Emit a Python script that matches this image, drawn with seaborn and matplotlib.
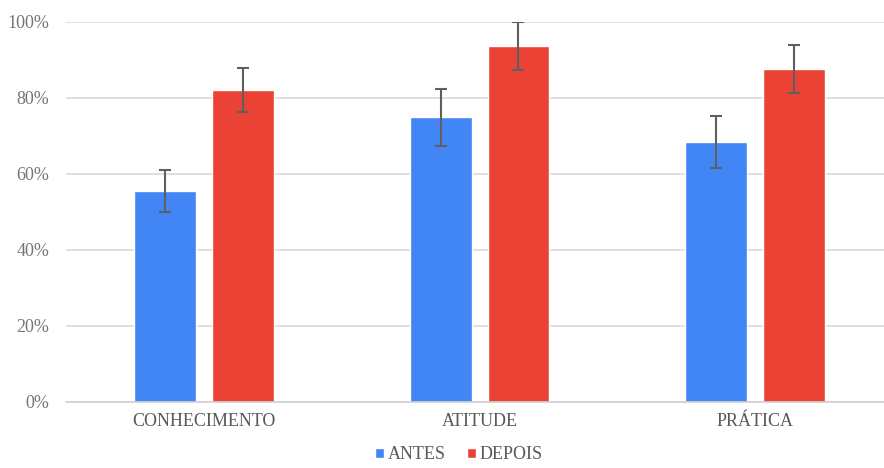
import numpy as np
import pandas as pd
import matplotlib
matplotlib.use("Agg")
from matplotlib import pyplot as plt
from matplotlib.patches import Patch
from matplotlib.ticker import PercentFormatter
import seaborn as sns

categorias = ["CONHECIMENTO", "ATITUDE", "PRÁTICA"]
grupos = ["ANTES", "DEPOIS"]
antes = [0.555, 0.750, 0.685]
depois = [0.821, 0.937, 0.877]
erro_antes = [0.055, 0.075, 0.068]
erro_depois = [0.058, 0.064, 0.063]
cores = ["#4285F4", "#EA4335"]

df = pd.DataFrame({
    "categoria": categorias * 2,
    "grupo": [grupos[0]] * 3 + [grupos[1]] * 3,
    "valor": antes + depois,
})

sns.set_style("white")
plt.rcParams["font.family"] = ["Liberation Serif", "DejaVu Serif"]

fig = plt.figure(figsize=(8.84, 4.68), dpi=100)
ax = fig.add_axes([66 / 884, 66 / 468, 818 / 884, 380 / 468])

sns.barplot(data=df, x="categoria", y="valor", hue="grupo", order=categorias,
            hue_order=grupos, palette=cores, width=0.565, gap=0.205,
            errorbar=None, legend=False, saturation=1, ax=ax)

# barras de erro no centro de cada barra
for cont, errs in zip(ax.containers, [erro_antes, erro_depois]):
    xs = [b.get_x() + b.get_width() / 2 for b in cont]
    ys = [b.get_height() for b in cont]
    ax.errorbar(xs, ys, yerr=errs, fmt="none", ecolor="#5f5f5f",
                elinewidth=1.5, capsize=4, capthick=1.5, zorder=5)

ax.set_ylim(0, 1)
ax.set_xlim(-0.5, 2.467)
ax.set_yticks(np.arange(0, 1.01, 0.2))
ax.yaxis.set_major_formatter(PercentFormatter(1.0, decimals=0))
ax.grid(axis="y", color="#d9d9d9", linewidth=1.2)
ax.set_axisbelow(True)
for s in ["top", "right", "left"]:
    ax.spines[s].set_visible(False)
ax.spines["bottom"].set_color("#d0d0d0")
ax.spines["bottom"].set_linewidth(1.2)
ax.tick_params(axis="x", length=0, labelsize=13, labelcolor="#595959", pad=8)
ax.tick_params(axis="y", length=0, labelsize=13, labelcolor="#757575", pad=12)
ax.set_xlabel("")
ax.set_ylabel("")

handles = [Patch(facecolor=c, label=g) for c, g in zip(cores, grupos)]
fig.legend(handles=handles, loc="center", bbox_to_anchor=(0.519, 0.028),
           ncol=2, frameon=False, fontsize=13, handlelength=0.5,
           handleheight=0.5, handletextpad=0.2, columnspacing=1.2,
           labelcolor="#595959")

fig.savefig("out.png", dpi=100)
